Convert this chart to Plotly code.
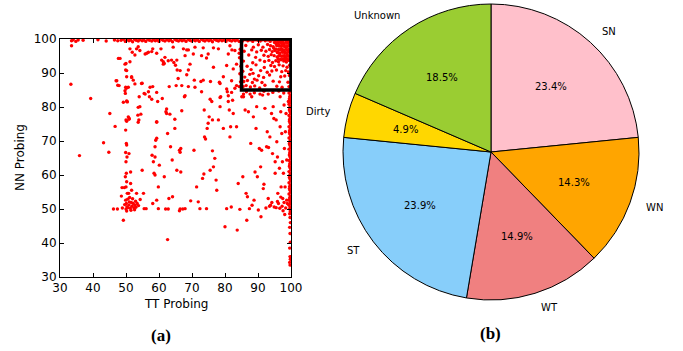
import math
import plotly.graph_objects as go

# ---------------- data: panel (a) ----------------
# scattered points (TT Probing, NN Probing)
tt_scatter = [33.3, 39.3, 35.9, 43.2, 44.8, 45.1, 46.7, 47.0, 47.5, 47.4, 46.2, 49.2, 48.6, 48.8, 49.5,
              50.0, 49.9, 50.2, 50.1, 49.8, 50.3, 50.0, 49.9, 50.1, 50.2, 49.9, 50.3, 50.0, 50.1, 49.8, 50.2, 50.0, 50.4, 49.9, 50.1, 50.3, 50.0,
              51.2, 51.7, 52.2, 50.7, 50.4, 50.7, 51.0, 50.9, 51.4, 51.4, 51.7, 50.8, 51.0, 52.2, 52.7, 53.2, 53.4, 55.3, 53.7, 52.7, 54.0, 54.2,
              53.6, 53.9, 54.7, 54.9, 55.5, 56.1, 55.5, 56.8, 57.1, 56.3, 57.8, 58.1, 57.9, 58.8, 58.3, 58.5, 58.8, 59.3, 58.1, 58.8, 59.3, 59.0,
              59.6, 59.3, 59.8, 59.8, 60.1, 60.8, 61.3, 61.0, 61.6, 61.6, 62.1, 62.3, 62.6, 62.0, 62.8, 62.6, 63.1, 63.5, 63.0, 64.1, 64.0, 64.8,
              65.0, 65.5, 65.8, 66.2, 66.4, 66.6, 65.4, 66.6, 66.9, 66.4, 67.2, 67.9, 66.2, 67.7, 68.4, 68.9, 68.9, 69.6, 70.6, 70.7, 71.4, 71.9,
              72.4, 72.7, 72.9, 73.2, 73.6, 73.7, 73.8, 74.1, 74.4, 74.6, 74.9, 75.2, 75.5, 75.6, 76.0, 76.2, 76.5, 76.2, 76.9, 77.3, 77.5, 78.0,
              78.5, 78.5, 78.7, 79.5, 80.0, 80.5, 80.7, 81.0, 81.3, 81.5, 81.7, 81.9, 82.1, 82.3, 82.5, 83.0, 83.5, 83.7, 84.0, 84.3, 84.5, 85.1,
              85.4, 85.6, 86.1, 86.4, 86.6, 86.8, 87.1, 87.4, 87.8, 88.1, 88.2, 88.6, 88.8, 89.1, 89.4, 89.6, 89.8, 90.1, 90.4, 90.8, 90.9, 91.1,
              91.4, 91.6, 91.8, 92.1, 92.6, 92.8, 93.1, 93.2, 93.6, 93.8, 94.1, 94.4, 94.6, 94.8, 94.9, 95.2, 95.2, 95.5, 95.7, 95.9, 96.0, 96.2,
              96.5, 96.7, 96.7, 96.9, 97.0, 97.2, 97.4, 97.5, 97.7, 97.9, 98.0, 98.2, 98.3, 98.5, 98.7, 98.9, 99.2,
              33.5, 48.2, 49.7, 50.2, 51.2, 51.9, 53.2, 54.2, 55.8, 56.8, 58.1, 60.6, 59.3, 61.8, 61.3, 62.8, 63.8, 64.3, 51.7, 52.7, 54.9, 55.8,
              57.3, 57.8, 59.3, 62.3, 63.3, 53.7, 54.5, 50.2, 49.2, 49.7, 49.9, 50.9, 50.2, 47.9, 47.2, 47.7, 53.7, 59.3, 64.8,
              67.4, 68.9, 70.9, 73.4, 76.5, 78.0, 81.5, 67.9, 70.4, 72.9, 74.9, 81.0, 83.0, 65.4, 64.5, 69.4, 74.4, 76.5, 80.5, 82.5, 83.5, 66.4,
              68.4, 73.4, 79.5, 82.0, 83.5, 65.2, 66.9, 70.9, 78.3, 80.5, 82.0, 81.0, 67.9, 75.5, 78.5, 85.6, 87.6, 90.6, 93.1,
              86.5, 88.9, 91.8, 94.5, 96.3, 97.8, 84.6, 84.4, 84.8, 84.5, 84.7, 84.3,
              50.6, 51.3, 51.8, 52.4, 50.9, 51.6, 52.9, 50.5, 51.1, 52.0, 51.5, 50.2, 52.6, 53.0, 49.6, 48.9, 53.8, 54.3,
              95.5, 96.6, 97.3, 97.9, 98.4, 98.7, 96.9, 95.9, 97.6, 98.1, 94.2, 92.4, 93.5]
nn_scatter = [86.7, 82.5, 65.7, 69.5, 66.7, 78.1, 74.3, 87.7, 86.4, 50.0, 50.0, 46.7, 53.8, 56.3, 56.3,
              92.8, 90.9, 88.9, 85.5, 84.0, 81.6, 76.2, 73.2, 69.3, 68.8, 66.6, 65.3, 63.9, 60.5, 59.5, 58.0, 56.5, 54.6, 52.6, 51.6, 50.7, 50.0,
              93.3, 88.9, 87.9, 85.8, 81.5, 77.1, 76.6, 66.3, 60.9, 57.5, 55.5, 54.6, 52.1, 51.6, 51.1, 54.6, 51.6, 54.6, 97.7, 95.3, 83.0, 80.1,
              77.6, 76.2, 86.9, 61.4, 50.1, 50.1, 84.0, 84.5, 83.0, 95.8, 96.3, 86.0, 65.8, 65.3, 63.9, 60.5, 60.0, 52.6, 51.6, 68.3, 70.8, 70.2,
              81.6, 75.7, 56.5, 50.1, 62.9, 93.8, 93.3, 82.5, 92.8, 59.5, 78.6, 78.1, 72.2, 50.0, 50.0, 41.0, 86.0, 68.3, 53.1, 53.6, 64.4, 73.7,
              92.3, 90.9, 88.4, 67.3, 66.7, 67.8, 61.4, 60.9, 78.9, 50.0, 50.0, 50.1, 49.5, 83.0, 96.8, 90.9, 86.0, 52.4, 67.3, 87.9, 56.5, 52.1,
              50.1, 87.5, 84.5, 59.0, 60.3, 79.1, 71.2, 70.6, 50.1, 73.7, 75.2, 77.1, 61.4, 87.5, 81.6, 76.2, 62.4, 67.1, 64.9, 58.5, 55.5, 76.2,
              86.9, 80.1, 83.0, 73.7, 44.8, 50.1, 84.5, 81.6, 79.1, 71.2, 74.2, 50.6, 96.8, 82.0, 78.1, 85.5, 74.2, 43.8, 57.5, 95.8, 49.9, 83.0,
              59.5, 83.0, 79.1, 54.6, 46.7, 53.6, 78.6, 50.1, 69.3, 83.0, 51.1, 77.1, 52.6, 60.9, 73.7, 80.1, 59.5, 49.7, 67.8, 62.4, 47.7, 67.3,
              83.5, 56.0, 57.3, 79.6, 68.3, 72.7, 53.1, 68.1, 71.2, 51.1, 78.1, 66.3, 80.1, 76.6, 50.6, 63.9, 60.5, 76.2, 69.8, 65.3, 54.6, 51.6,
              62.0, 74.2, 83.0, 78.6, 56.5, 72.2, 63.9, 53.1, 60.5, 80.6, 67.8, 56.5, 72.7, 78.1, 64.4, 51.6, 81.6,
              98.0, 94.3, 92.6, 90.7, 97.1, 96.1, 97.1, 96.6, 95.6, 96.1, 97.1, 97.1, 95.8, 94.6, 92.6, 93.6, 93.8, 97.6, 88.7, 86.8, 87.0, 83.8,
              85.8, 82.3, 84.3, 79.4, 77.9, 79.9, 77.9, 81.8, 81.4, 84.8, 85.8, 76.4, 75.8, 86.3, 87.7, 94.3, 75.5, 75.5, 76.4,
              97.1, 96.8, 97.6, 97.4, 97.4, 97.1, 98.0, 95.1, 95.6, 95.1, 95.6, 95.6, 96.6, 93.8, 93.1, 92.6, 94.4, 91.7, 92.2, 91.2, 92.6, 90.7,
              89.5, 87.9, 88.9, 87.7, 86.3, 86.3, 86.3, 85.8, 87.3, 85.3, 84.3, 83.3, 83.3, 82.3, 82.8, 83.8, 83.8, 83.8, 83.8,
              84.5, 84.2, 84.6, 84.3, 84.7, 84.1, 97.0, 94.5, 92.0, 89.8, 87.4, 86.0,
              50.4, 50.2, 50.8, 50.3, 51.2, 51.9, 52.3, 52.9, 53.4, 53.0, 49.6, 49.4, 49.8, 50.5, 51.3, 50.3, 51.0, 52.8,
              50.4, 50.2, 50.8, 51.9, 50.3, 52.6, 53.5, 52.2, 49.5, 48.4, 51.9, 50.3, 50.8]

# points along the top edge (NN Probing close to 100)
tt_top = [33.5, 34.0, 34.8, 35.5, 37.0, 41.5, 44.0, 46.5, 47.5,
          48.5, 49.2, 49.8, 50.3, 50.9, 51.4, 52.0, 52.6, 53.1, 53.7, 54.2, 54.9, 55.4, 56.0, 56.6, 57.1, 57.8, 58.3, 58.9, 59.5,
          60.0, 60.7, 61.2, 61.8, 62.4, 63.0, 63.5, 64.1, 64.8, 65.3, 65.9, 66.5, 67.0, 67.6, 68.2, 68.8, 69.3, 69.9, 70.5, 71.0,
          71.7, 72.2, 72.8, 73.4, 73.9, 74.5, 75.1, 75.7, 76.2, 76.8, 77.4, 78.0, 78.5, 79.1, 79.7, 80.3, 80.8, 81.4, 82.0, 82.6,
          83.1, 83.7, 84.3]
nn_top = [99.5, 99.8, 99.3, 99.7, 99.6, 99.8, 99.4, 99.7, 99.5,
          99.6, 99.9, 99.3, 99.8, 99.5, 99.7, 99.2, 99.9, 99.6, 99.4, 99.8, 99.5, 99.7, 99.3, 99.9, 99.6, 99.4, 99.8, 99.5, 99.7,
          99.3, 99.9, 99.6, 99.4, 99.8, 99.5, 99.7, 99.2, 99.9, 99.6, 99.4, 99.8, 99.5, 99.7, 99.3, 99.9, 99.6, 99.4, 99.8, 99.5,
          99.7, 99.3, 99.9, 99.6, 99.4, 99.8, 99.5, 99.7, 99.2, 99.9, 99.6, 99.4, 99.8, 99.5, 99.7, 99.3, 99.9, 99.6, 99.4, 99.8,
          99.5, 99.7, 99.3]

# points along the right edge (TT Probing close to 100)
nn_right = [33.5, 34.3, 35.2, 36.0, 38.5, 40.2, 42.8, 44.6, 46.0, 47.5, 48.6, 49.3,
            50.0, 50.5, 51.1, 51.6, 52.2, 52.7, 53.3, 53.8, 54.4, 54.9, 55.5, 56.0, 56.6, 57.1, 57.7, 58.2, 58.8, 59.3,
            59.9, 60.4, 61.0, 61.5, 62.1, 62.6, 63.2, 63.7, 64.3, 64.8, 65.4, 65.9, 66.5, 67.0, 67.6, 68.1, 68.7, 69.2,
            69.8, 70.3, 70.9, 71.4, 72.0, 72.5, 73.1, 73.6, 74.2, 74.7, 75.3, 75.8, 76.4, 76.9, 77.5, 78.0, 78.6, 79.1,
            79.7, 80.2, 80.8, 81.3, 81.9, 82.4, 83.0, 83.5, 84.1, 84.6]
tt_right = [99.7, 99.6, 99.8, 99.7, 99.6, 99.8, 99.7, 99.6, 99.8, 99.7, 99.6, 99.8,
            99.6, 99.8, 99.4, 99.9, 99.7, 99.5, 99.6, 99.8, 99.4, 99.9, 99.7, 99.5, 99.6, 99.8, 99.4, 99.9, 99.7, 99.5,
            99.6, 99.8, 99.4, 99.9, 99.7, 99.5, 99.6, 99.8, 99.4, 99.9, 99.7, 99.5, 99.6, 99.8, 99.4, 99.9, 99.7, 99.5,
            99.6, 99.8, 99.4, 99.9, 99.7, 99.5, 99.6, 99.8, 99.4, 99.9, 99.7, 99.5, 99.6, 99.8, 99.4, 99.9, 99.7, 99.5,
            99.6, 99.8, 99.4, 99.9, 99.7, 99.5, 99.6, 99.8, 99.4, 99.9]

# dense cluster inside the highlighted region
tt_box = [85.3, 86.1, 86.9, 87.6, 88.4, 89.2, 89.9, 90.7, 91.4, 92.2, 93.0, 93.7, 94.5, 95.2, 96.0, 96.8, 97.5, 98.3, 99.0, 99.7,
          86.3, 88.6, 90.1, 91.5, 92.9, 93.8, 94.6, 95.5, 96.3, 97.1, 97.9, 98.6, 99.4, 95.0, 96.9, 98.9,
          85.8, 88.1, 89.6, 91.0, 92.4, 93.5, 94.3, 95.1, 95.9, 96.7, 97.5, 98.2, 99.0, 99.6, 94.8, 97.2,
          87.2, 89.3, 91.8, 93.1, 94.0, 94.9, 95.8, 96.6, 97.4, 98.1, 98.9, 99.5, 96.1, 98.4,
          85.6, 88.4, 90.6, 92.0, 93.3, 94.4, 95.4, 96.2, 97.0, 97.8, 98.6, 99.3,
          86.7, 89.4, 91.9, 93.9, 95.0, 96.4, 97.6, 98.8, 99.6,
          85.4, 87.9, 88.5, 90.8, 92.8, 94.2, 95.6, 97.2, 98.4, 99.2,
          86.0, 87.5, 88.9, 90.2, 91.7, 93.5, 96.9, 98.1, 99.5,
          85.7, 86.8, 88.3, 89.7, 91.2, 94.6, 96.5, 99.1,
          85.5, 86.4, 87.7, 89.0, 90.5, 92.1, 95.7, 97.3, 99.4]
nn_box = [99.4, 99.8, 99.5, 99.7, 99.3, 99.8, 99.6, 99.4, 99.8, 99.5, 99.7, 99.3, 99.8, 99.6, 99.4, 99.8, 99.5, 99.7, 99.3, 99.8,
          98.1, 97.6, 98.3, 97.6, 98.4, 98.0, 97.7, 98.5, 98.2, 97.9, 98.4, 97.6, 98.2, 99.0, 98.8, 99.0,
          96.4, 96.8, 96.2, 96.7, 96.4, 96.9, 96.3, 96.6, 96.1, 96.8, 96.5, 96.2, 96.7, 96.4, 97.3, 97.1,
          95.3, 94.6, 95.2, 94.9, 95.4, 95.1, 94.7, 95.3, 95.0, 94.8, 95.2, 94.9, 94.1, 94.3,
          93.5, 93.0, 93.8, 93.4, 93.7, 93.1, 93.6, 93.3, 93.9, 93.5, 93.2, 93.7,
          92.0, 92.4, 91.6, 92.2, 91.9, 92.4, 92.1, 91.7, 92.3,
          90.5, 91.0, 89.9, 90.7, 90.2, 90.6, 90.9, 90.4, 90.7, 90.3,
          88.8, 89.6, 88.2, 89.2, 88.7, 89.4, 88.9, 89.1, 89.3,
          87.5, 87.8, 87.2, 87.9, 87.2, 87.6, 87.4, 87.3,
          86.0, 86.3, 85.9, 86.2, 85.6, 86.4, 86.1, 85.8, 86.0]

# the nearly solid top-right corner of the highlighted region
tt_corner = [95.3, 96.1, 96.8, 97.6, 98.4, 99.1, 99.8, 95.7, 96.5, 97.2, 98.0, 98.7, 99.4,
             95.4, 96.2, 97.0, 97.8, 98.5, 99.3, 95.9, 96.6, 97.4, 98.2, 98.9, 99.7,
             96.3, 97.1, 97.9, 98.6, 99.2, 96.8, 97.7, 98.3, 99.0, 99.8]
nn_corner = [99.0, 98.9, 99.1, 98.8, 99.0, 98.9, 99.1, 98.0, 97.9, 98.1, 97.8, 98.0, 97.9,
             97.0, 96.9, 97.1, 96.8, 97.0, 96.9, 96.0, 95.9, 96.1, 95.8, 96.0, 95.9,
             95.0, 94.9, 95.1, 94.8, 95.0, 94.0, 94.1, 93.9, 94.0, 94.2]

highlight_region = [85, 100]
axis_ticks = [30, 40, 50, 60, 70, 80, 90, 100]

# ---------------- data: panel (b) ----------------
pie_labels = ["SN", "WN", "WT", "ST", "Dirty", "Unknown"]
pie_values = [23.4, 14.3, 14.9, 23.9, 4.9, 18.5]
pie_colors = ["#FFC0CB", "#FFA500", "#F08080", "#87CEFA", "#FFD700", "#9ACD32"]

# ---------------- layout constants ----------------
W, H = 683, 351
FONT = "DejaVu Sans"
ax_left, ax_right, ax_top, ax_bottom = 60, 291, 39, 277
pie_cx, pie_cy, pie_r = 491, 152, 148

tt_all = tt_scatter + tt_top + tt_right + tt_box + tt_corner
nn_all = nn_scatter + nn_top + nn_right + nn_box + nn_corner

fig = go.Figure()
fig.add_trace(go.Scatter(
    x=tt_all, y=nn_all, mode="markers",
    marker=dict(color="#FF0000", size=3.4, line=dict(width=0)),
    showlegend=False, hoverinfo="skip", xaxis="x", yaxis="y"))

fig.add_trace(go.Pie(
    labels=pie_labels, values=pie_values, sort=False, direction="clockwise", rotation=0,
    marker=dict(colors=pie_colors, line=dict(color="black", width=1)),
    textinfo="none", showlegend=False, hoverinfo="label+percent", automargin=False,
    domain=dict(x=[(pie_cx - pie_r) / W, (pie_cx + pie_r) / W],
                y=[1 - (pie_cy + pie_r) / H, 1 - (pie_cy - pie_r) / H])))


def ann(xpx, ypx, text, size=10, family=FONT, xanchor="center", angle=0):
    return dict(x=xpx / W, y=1 - ypx / H, xref="paper", yref="paper", text=text,
                showarrow=False, xanchor=xanchor, yanchor="middle", textangle=angle,
                font=dict(family=family, size=size, color="black"))


annotations = []
total = sum(pie_values)
cum = 0.0
for lab, v in zip(pie_labels, pie_values):
    mid = cum + v / 2
    cum += v
    ang = math.pi / 2 - 2 * math.pi * mid / total
    c, s = math.cos(ang), math.sin(ang)
    annotations.append(ann(pie_cx + 1.1 * pie_r * c, pie_cy - 1.1 * pie_r * s, lab,
                           xanchor="left" if c > 0 else "right"))
    annotations.append(ann(pie_cx + 0.6 * pie_r * c, pie_cy - 0.6 * pie_r * s,
                           f"{100 * v / total:.1f}%"))

annotations.append(ann(176, 304, "TT Probing", size=12))
annotations.append(ann(20, 158, "NN Probing", size=12, angle=-90))
annotations.append(ann(161, 335, "<b>(a)</b>", size=17, family="Liberation Serif"))
annotations.append(ann(490, 333, "<b>(b)</b>", size=17, family="Liberation Serif"))

axis_common = dict(
    range=[axis_ticks[0], axis_ticks[-1]], autorange=False, tickvals=axis_ticks,
    ticks="inside", ticklen=4, tickwidth=1, tickcolor="black",
    showline=True, linecolor="black", linewidth=1, mirror="ticks",
    showgrid=False, zeroline=False, automargin=False,
    tickfont=dict(family=FONT, size=12, color="black"))

fig.update_layout(
    width=W, height=H, autosize=False,
    margin=dict(l=0, r=0, t=0, b=0),
    paper_bgcolor="white", plot_bgcolor="white",
    xaxis=dict(domain=[ax_left / W, ax_right / W], anchor="y", **axis_common),
    yaxis=dict(domain=[1 - ax_bottom / H, 1 - ax_top / H], anchor="x", **axis_common),
    shapes=[dict(type="rect", xref="x", yref="y",
                 x0=highlight_region[0], x1=highlight_region[1],
                 y0=highlight_region[0], y1=highlight_region[1],
                 line=dict(color="black", width=3.5), fillcolor="rgba(0,0,0,0)")],
    annotations=annotations,
)

fig.write_html("out.html", config={"displayModeBar": False},
               post_script="document.body.style.margin='0';")
